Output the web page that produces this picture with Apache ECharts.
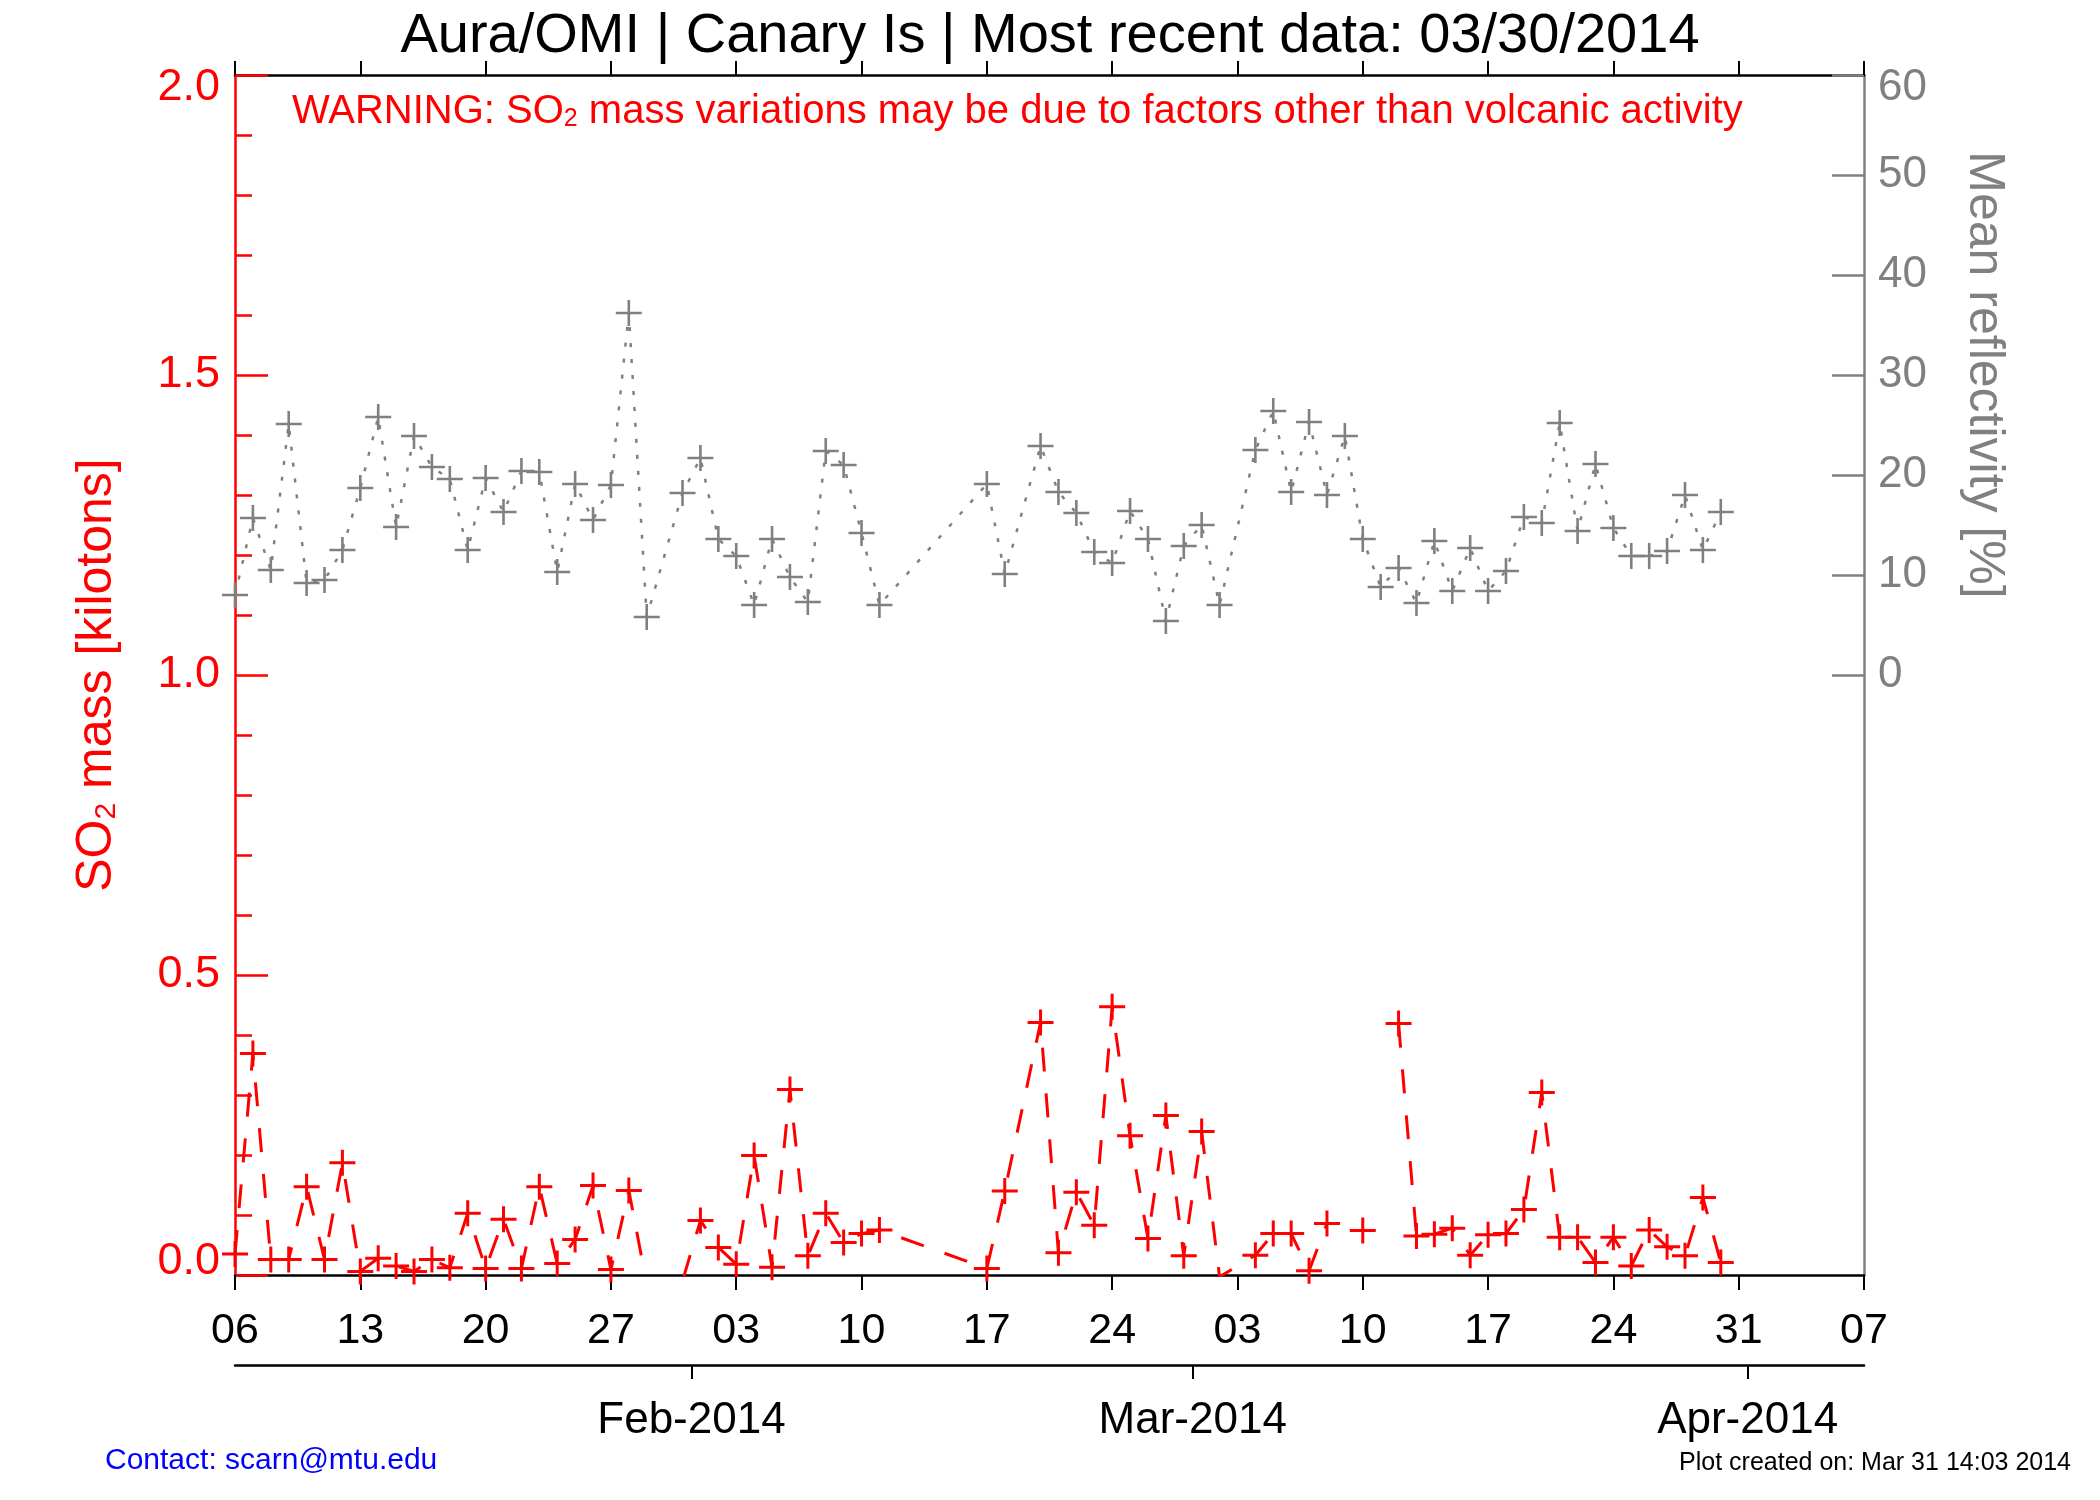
<!DOCTYPE html>
<html>
<head>
<meta charset="utf-8">
<script src="https://cdn.jsdelivr.net/npm/echarts@6/dist/echarts.min.js"></script>
<style>html,body{margin:0;padding:0;background:#fff}#c{width:2100px;height:1500px}</style>
</head>
<body>
<div id="c"></div>
<script>
// ---- data ----
const days = ['2014-01-06','2014-01-07','2014-01-08','2014-01-09','2014-01-10','2014-01-11','2014-01-12','2014-01-13','2014-01-14','2014-01-15','2014-01-16','2014-01-17','2014-01-18','2014-01-19','2014-01-20','2014-01-21','2014-01-22','2014-01-23','2014-01-24','2014-01-25','2014-01-26','2014-01-27','2014-01-28','2014-01-29','2014-01-31','2014-02-01','2014-02-02','2014-02-03','2014-02-04','2014-02-05','2014-02-06','2014-02-07','2014-02-08','2014-02-09','2014-02-10','2014-02-11','2014-02-17','2014-02-18','2014-02-20','2014-02-21','2014-02-22','2014-02-23','2014-02-24','2014-02-25','2014-02-26','2014-02-27','2014-02-28','2014-03-01','2014-03-02','2014-03-04','2014-03-05','2014-03-06','2014-03-07','2014-03-08','2014-03-09','2014-03-10','2014-03-11','2014-03-12','2014-03-13','2014-03-14','2014-03-15','2014-03-16','2014-03-17','2014-03-18','2014-03-19','2014-03-20','2014-03-21','2014-03-22','2014-03-23','2014-03-24','2014-03-25','2014-03-26','2014-03-27','2014-03-28','2014-03-29','2014-03-30'];
const so2 = [0.035,0.369,0.026,0.026,0.147,0.026,0.187,0.006,0.028,0.015,0.006,0.026,0.012,0.103,0.011,0.093,0.011,0.147,0.019,0.059,0.149,0.009,0.141,-0.015,-0.01,0.091,0.046,0.018,0.199,0.013,0.309,0.032,0.103,0.054,0.069,0.075,0.011,0.140,0.421,0.037,0.138,0.083,0.447,0.232,0.061,0.266,0.032,0.239,-0.003,0.033,0.069,0.069,0.007,0.086,null,0.074,null,0.419,0.065,0.068,0.078,0.033,0.067,0.069,0.109,0.304,0.063,0.063,0.021,0.063,0.015,0.075,0.047,0.032,0.129,0.021];
const refl = [8.0,15.7,10.5,25.1,9.2,9.5,12.5,18.7,25.8,14.8,23.9,20.8,19.6,12.5,19.7,16.3,20.4,20.3,10.3,19.1,15.5,19.0,36.2,5.8,18.2,21.7,13.6,11.9,7.0,13.6,9.8,7.3,22.4,21.0,14.2,7.0,19.1,10.1,22.9,18.3,16.2,12.3,11.2,16.4,13.6,5.4,12.9,15.0,7.0,22.5,26.4,18.3,25.3,18.0,23.9,13.6,8.8,10.7,7.2,13.4,8.4,12.7,8.4,10.4,15.8,15.2,25.2,14.4,21.1,14.7,11.9,11.9,12.4,18.0,12.5,16.3];
const weekTicks = ['2014-01-06','2014-01-13','2014-01-20','2014-01-27','2014-02-03','2014-02-10','2014-02-17','2014-02-24','2014-03-03','2014-03-10','2014-03-17','2014-03-24','2014-03-31','2014-04-07'];
const weekLabels = ['06','13','20','27','03','10','17','24','03','10','17','24','31','07'];
const monthTicks = ['2014-01-31T12','2014-02-28T12','2014-03-31T12'];
const monthLabels = ['Feb-2014','Mar-2014','Apr-2014'];
const reflTicks = [0,10,20,30,40,50,60];

// ---- helpers ----
function ts(s){
  const parts = s.split('T');
  const d = parts[0].split('-').map(Number);
  const h = parts[1] ? Number(parts[1]) : 0;
  return Date.UTC(d[0], d[1]-1, d[2], h);
}
const FONT = '"Liberation Sans", Arial, Helvetica, sans-serif';
const GRAY = '#808080';
const RED = '#ff0000';
const X0 = ts('2014-01-06'), X1 = ts('2014-04-07');
const weekTs = weekTicks.map(ts);
const monthTs = monthTicks.map(ts);
function lookup(arr, labels, v){
  for (let i = 0; i < arr.length; i++) { if (Math.abs(arr[i] - v) < 1000) return labels[i]; }
  return '';
}
const crossGray = 'path://M11.7,0H14.3V11.7H26V14.3H14.3V26H11.7V14.3H0V11.7H11.7Z';
const crossRed = 'path://M11.5,0H14.5V11.5H26V14.5H14.5V26H11.5V14.5H0V11.5H11.5Z';

const chart = echarts.init(document.getElementById('c'));
const option = {
  animation: false,
  backgroundColor: '#ffffff',
  textStyle: {fontFamily: FONT},
  title: {
    text: 'Aura/OMI | Canary Is | Most recent data: 03/30/2014',
    left: 'center', top: 4,
    textStyle: {fontFamily: FONT, fontSize: 56, fontWeight: 'normal', color: '#000'}
  },
  grid: {left: 235, top: 75, width: 1629, height: 1200, show: false},
  xAxis: [
    {
      type: 'value', min: X0, max: X1, position: 'bottom', scale: true,
      axisLine: {show: true, onZero: false, lineStyle: {color: '#000', width: 2.5}},
      axisTick: {show: true, customValues: weekTs, length: 15, lineStyle: {color: '#000', width: 2}},
      axisLabel: {customValues: weekTs, formatter: v => lookup(weekTs, weekLabels, v), fontSize: 43, color: '#000', margin: 35, fontFamily: FONT},
      splitLine: {show: false}
    },
    {
      type: 'value', min: X0, max: X1, position: 'bottom', offset: 90, scale: true,
      axisLine: {show: true, onZero: false, lineStyle: {color: '#000', width: 2.5}},
      axisTick: {show: true, customValues: monthTs, length: 14, lineStyle: {color: '#000', width: 2}},
      axisLabel: {customValues: monthTs, formatter: v => lookup(monthTs, monthLabels, v), fontSize: 44, color: '#000', margin: 34, fontFamily: FONT},
      splitLine: {show: false}
    },
    {
      type: 'value', min: X0, max: X1, position: 'top', scale: true,
      axisLine: {show: true, onZero: false, lineStyle: {color: '#000', width: 2.5}},
      axisTick: {show: true, customValues: weekTs, length: 14, lineStyle: {color: '#000', width: 2}},
      axisLabel: {show: false},
      splitLine: {show: false}
    }
  ],
  yAxis: [
    {
      type: 'value', position: 'left', min: 0, max: 2, interval: 0.5,
      axisLine: {show: true, onZero: false, lineStyle: {color: RED, width: 2.5}},
      axisTick: {show: true, inside: true, length: 33, lineStyle: {color: RED, width: 2.5}},
      minorTick: {show: true, splitNumber: 5, length: 17, lineStyle: {color: RED, width: 2.5}},
      axisLabel: {formatter: v => v.toFixed(1), fontSize: 45, lineHeight: 26, color: RED, margin: 15, fontFamily: FONT,
                  verticalAlignMinLabel: 'bottom', verticalAlignMaxLabel: 'top'},
      splitLine: {show: false},
      name: '{a|SO}{s|2}{a| mass [kilotons]}',
      nameLocation: 'middle', nameGap: 113,
      nameTextStyle: {
        rich: {
          a: {fontSize: 50, lineHeight: 50, color: RED, fontFamily: FONT},
          s: {fontSize: 30, lineHeight: 18, verticalAlign: 'bottom', color: RED, fontFamily: FONT}
        }
      }
    },
    {
      type: 'value', position: 'right', min: -60, max: 60, interval: 10,
      axisLine: {show: true, onZero: false, lineStyle: {color: GRAY, width: 2.5}},
      axisTick: {show: true, inside: true, length: 32, customValues: reflTicks, lineStyle: {color: GRAY, width: 2.5}},
      axisLabel: {customValues: reflTicks, fontSize: 44, lineHeight: 26, color: GRAY, margin: 14, fontFamily: FONT,
                  verticalAlignMaxLabel: 'top'},
      splitLine: {show: false}
    }
  ],
  series: [
    {
      type: 'line', name: 'Mean reflectivity', xAxisIndex: 0, yAxisIndex: 1,
      data: days.map((d, i) => [ts(d), refl[i]]),
      symbol: crossGray, symbolSize: 26, showSymbol: true,
      itemStyle: {color: GRAY, borderWidth: 0},
      lineStyle: {color: GRAY, width: 2.5, type: [4, 12]},
      clip: true, z: 2
    },
    {
      type: 'line', name: 'SO2 mass', xAxisIndex: 0, yAxisIndex: 0,
      data: days.map((d, i) => [ts(d), so2[i]]),
      symbol: crossRed, symbolSize: 26, showSymbol: true,
      itemStyle: {color: RED, borderWidth: 0},
      lineStyle: {color: RED, width: 3, type: [24, 22]},
      connectNulls: false, clip: true, z: 3
    }
  ],
  graphic: [
    {
      type: 'text', x: 292, y: 112, z: 10,
      style: {
        text: '{a|WARNING: SO}{s|2}{a| mass variations may be due to factors other than volcanic activity}',
        align: 'left', verticalAlign: 'middle',
        rich: {
          a: {fontSize: 40, lineHeight: 40, fill: RED, fontFamily: FONT},
          s: {fontSize: 25, lineHeight: 14, verticalAlign: 'bottom', fill: RED, fontFamily: FONT}
        }
      }
    },
    {
      type: 'text', x: 1984, y: 375, rotation: -Math.PI / 2, z: 10,
      style: {text: 'Mean reflectivity [%]', fontSize: 50, fontFamily: FONT, fill: GRAY, align: 'center', verticalAlign: 'middle'}
    },
    {
      type: 'text', x: 105, y: 1461, z: 10,
      style: {text: 'Contact: scarn@mtu.edu', fontSize: 30, fontFamily: FONT, fill: '#0000ff', align: 'left', verticalAlign: 'middle'}
    },
    {
      type: 'text', x: 2071, y: 1463, z: 10,
      style: {text: 'Plot created on: Mar 31 14:03 2014', fontSize: 25, fontFamily: FONT, fill: '#000', align: 'right', verticalAlign: 'middle'}
    }
  ]
};
chart.setOption(option);
</script>
</body>
</html>
